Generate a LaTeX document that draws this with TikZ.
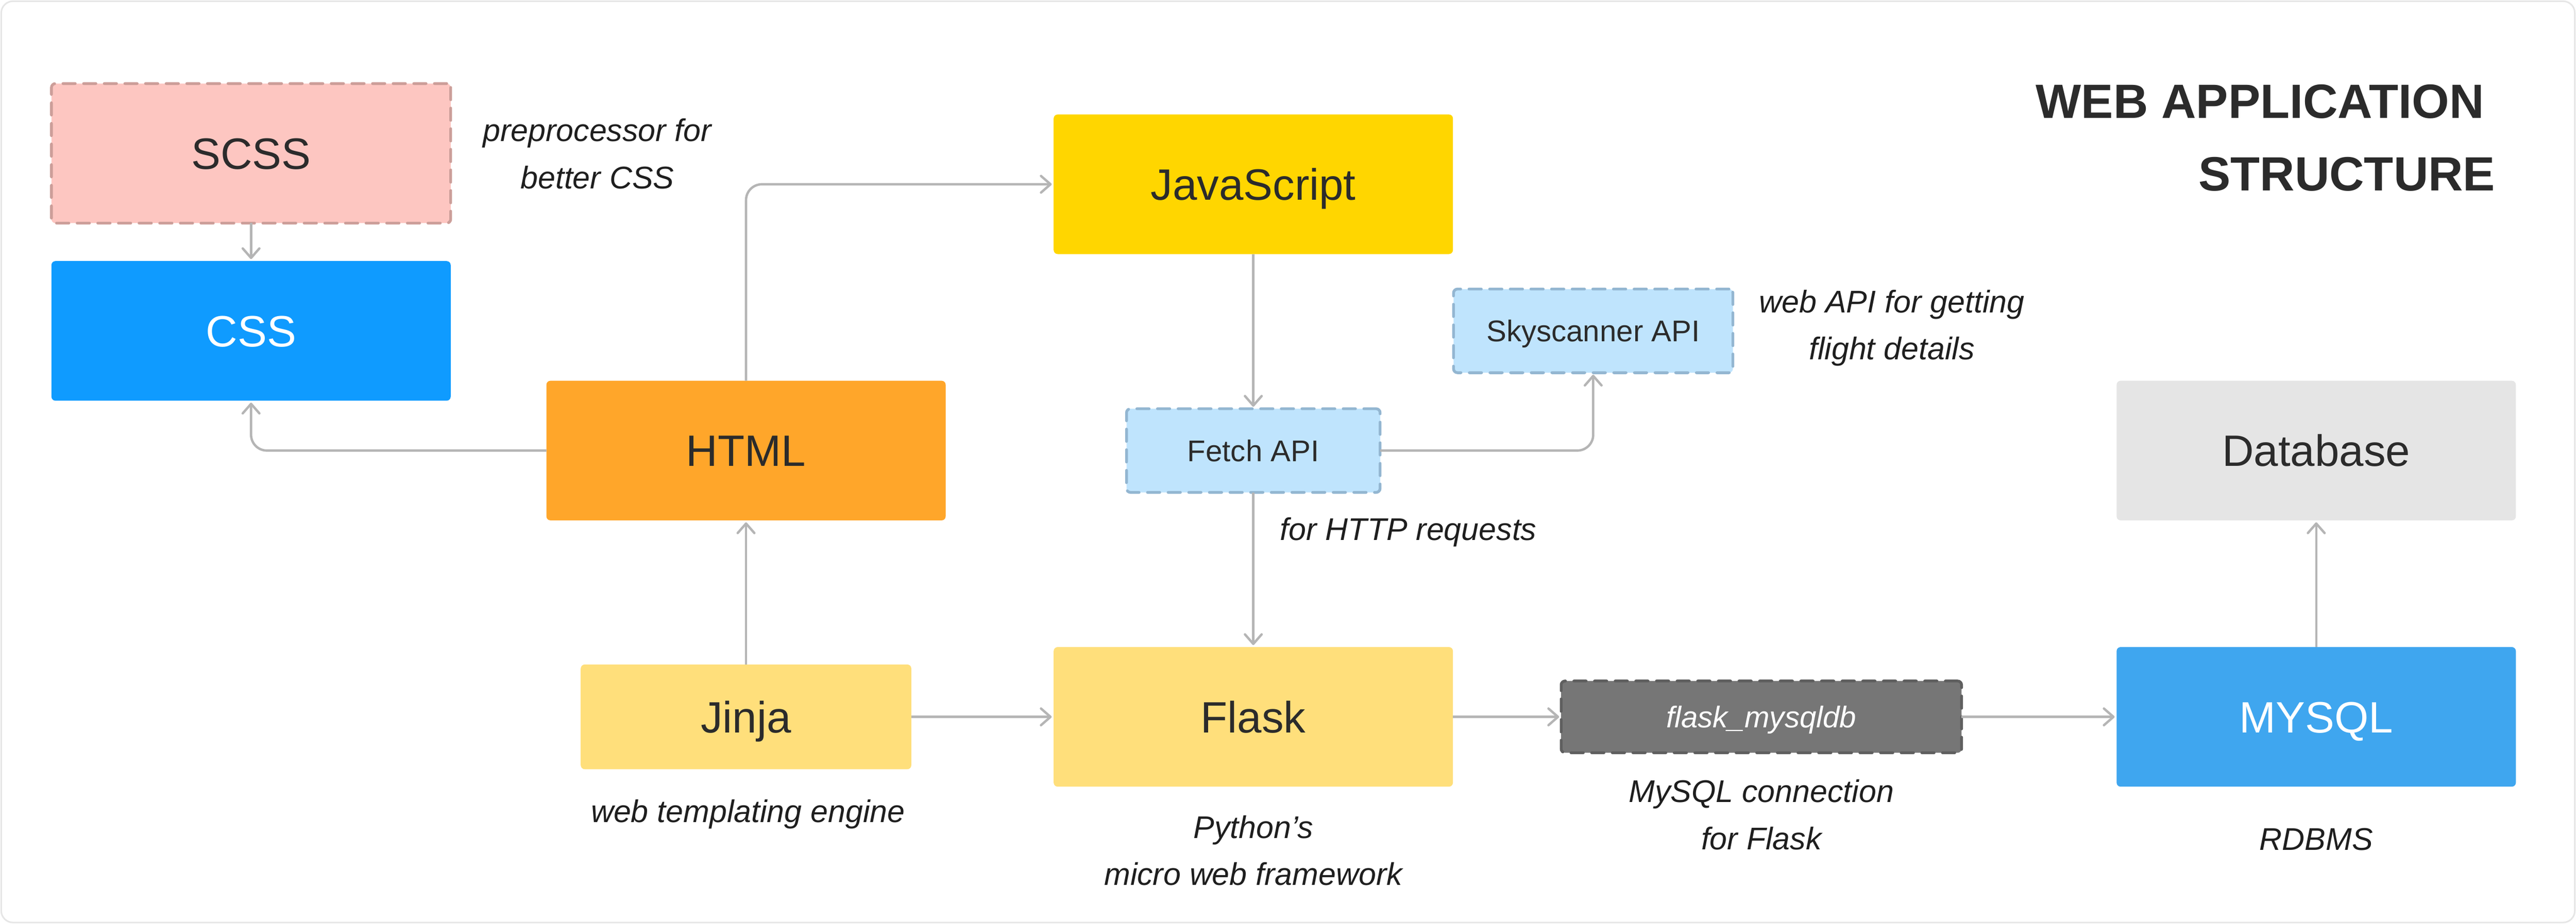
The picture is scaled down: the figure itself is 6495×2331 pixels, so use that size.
\documentclass[tikz,border=0pt]{standalone}
\usepackage{fontspec}
\setmainfont{Liberation Sans}
\usetikzlibrary{arrows.meta}
\definecolor{scssfill}{HTML}{FDC6C1}
\definecolor{scssline}{HTML}{CC9E99}
\definecolor{cssfill}{HTML}{0F9BFF}
\definecolor{htmlfill}{HTML}{FFA62A}
\definecolor{jsfill}{HTML}{FFD600}
\definecolor{apifill}{HTML}{BFE4FD}
\definecolor{apiline}{HTML}{93B6D1}
\definecolor{jinjafill}{HTML}{FFDF7B}
\definecolor{connfill}{HTML}{767676}
\definecolor{connline}{HTML}{5F5F5F}
\definecolor{mysqlfill}{HTML}{3FA6EF}
\definecolor{dbfill}{HTML}{E5E5E5}
\definecolor{linegray}{HTML}{B5B5B5}
\definecolor{textdark}{HTML}{2B2B2B}
\definecolor{annotext}{HTML}{1E1E1E}
\definecolor{framegray}{HTML}{E6E6E6}
\tikzset{
  box/.style={rounded corners=0.1cm, inner sep=0pt, outer sep=0pt, align=center,
    text=textdark, text depth=0pt},
  bigbox/.style={box, minimum width=10.06cm, minimum height=3.52cm,
    font=\fontsize{31.5}{38}\selectfont, text height=22.6pt},
  smallbox/.style={box, minimum height=2.11cm,
    font=\fontsize{21.5}{26}\selectfont, text height=15.4pt},
  dashedborder/.style={line width=0.07cm, line cap=round, dash pattern=on 0.31cm off 0.21cm},
  conn/.style={draw=linegray, line width=0.06cm, rounded corners=0.4cm,
    -{Straight Barb[length=0.24cm,width=0.42cm,round]}, shorten >=0.05cm},
  anno/.style={align=center, inner sep=0pt, text=annotext,
    font=\itshape\fontsize{22.5}{33.8}\selectfont},
  titletext/.style={inner sep=0pt, text=textdark,
    font=\bfseries\fontsize{34.5}{40}\selectfont}
}
\begin{document}
\begin{tikzpicture}[x=0.01cm,y=-0.01cm]
\useasboundingbox (0,0) rectangle (6495,2331);
\draw[framegray, line width=0.04cm, rounded corners=0.3cm] (3,3) rectangle (6492,2328);

% nodes
\node[bigbox, fill=scssfill, draw=scssline, dashedborder] (scss) at (633,387) {SCSS};
\node[bigbox, fill=cssfill, text=white] (css) at (633,835) {CSS};
\node[bigbox, fill=htmlfill] (html) at (1881,1137) {HTML};
\node[bigbox, fill=jsfill] (js) at (3160,465) {JavaScript};
\node[smallbox, minimum width=6.39cm, fill=apifill, draw=apiline, dashedborder] (fetch) at (3160,1137) {Fetch API};
\node[smallbox, minimum width=7.04cm, fill=apifill, draw=apiline, dashedborder] (sky) at (4017,835) {Skyscanner API};
\node[bigbox, minimum width=8.33cm, minimum height=2.64cm, fill=jinjafill] (jinja) at (1881,1809) {Jinja};
\node[bigbox, fill=jinjafill] (flask) at (3160,1809) {Flask};
\node[smallbox, minimum width=10.09cm, minimum height=1.81cm, fill=connfill, draw=connline, dashedborder, text=white, font=\itshape\fontsize{21.5}{26}\selectfont] (fmdb) at (4441,1809) {flask\_mysqldb};
\node[bigbox, fill=mysqlfill, text=white] (mysql) at (5840,1809) {MYSQL};
\node[bigbox, fill=dbfill] (db) at (5840,1137) {Database};

% annotations
\node[anno] (a1) at (1506,388) {preprocessor for\\better CSS};
\node[anno] (a2) at (4770,828) {web API for getting\\flight details};
\node[anno, anchor=base] (a3) at (3551,1363) {for HTTP requests};
\node[anno, anchor=base] (a4) at (1886,2075) {web templating engine};
\node[anno] (a5) at (3160,2146) {Python’s\\micro web framework};
\node[anno] (a6) at (4441,2056) {MySQL connection\\for Flask};
\node[anno, anchor=base] (a7) at (5840,2145) {RDBMS};

% title
\node[titletext, anchor=base east] (t1) at (6264,298) {WEB APPLICATION};
\node[titletext, anchor=base east] (t2) at (6292,481) {STRUCTURE};

% connectors
\draw[conn] (scss.south) -- (css.north);
\draw[conn] (html.west) -| (css.south);
\draw[conn] (html.north) |- (js.west);
\draw[conn] (js.south) -- (fetch.north);
\draw[conn] (fetch.east) -| (sky.south);
\draw[conn] (fetch.south) -- (flask.north);
\draw[conn] (jinja.north) -- (html.south);
\draw[conn] (jinja.east) -- (flask.west);
\draw[conn] (flask.east) -- (fmdb.west);
\draw[conn] (fmdb.east) -- (mysql.west);
\draw[conn] (mysql.north) -- (db.south);
\end{tikzpicture}
\end{document}
